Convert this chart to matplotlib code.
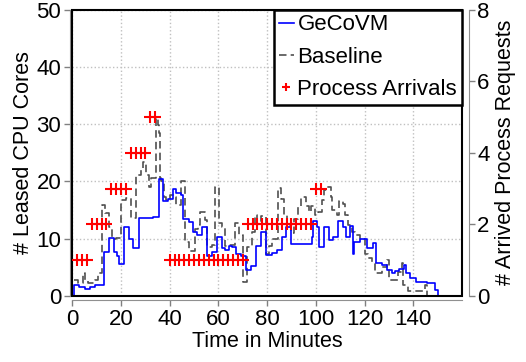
import matplotlib
matplotlib.use("Agg")
import matplotlib.pyplot as plt
from matplotlib.patches import Rectangle

plt.rcParams['font.family'] = ['Liberation Sans', 'DejaVu Sans']

# GeCoVM leased cores (step, post)
gecovm_t = [0, 0.7, 2.9, 5.2, 7.3, 9.3, 13.1, 15.2, 17.2, 18.2, 19.3, 21.2, 23.4, 24.9,
            27.4, 33.1, 35.6, 37.3, 39.3, 41.4, 42.7, 44.8, 45.5, 47.8, 49.4, 51.2, 53.2,
            55.3, 57.5, 59.4, 61.4, 62.8, 64.2, 65.5, 67.4, 69.4, 71.4, 73.3, 75.4, 77.6,
            79.6, 81.8, 83.9, 86.0, 87.9, 89.7, 98.4, 99.0, 100.5, 101.3, 103.2, 105.4,
            107.0, 109.1, 111.1, 112.5, 113.9, 115.1, 115.8, 118.1, 120.9, 123.3, 124.7,
            127.0, 129.1, 131.1, 132.5, 134.2, 136.1, 137.2, 138.6, 141.3, 145.5, 149.0, 150.3]
gecovm_v = [0, 1.9, 1.5, 1.2, 1.5, 1.9, 7.6, 10.2, 7.6, 7.0, 5.6, 12.0, 9.9, 8.3,
            13.6, 13.8, 20.5, 16.6, 17.0, 18.6, 18.0, 17.6, 13.4, 13.0, 11.2, 10.6, 12.0,
            7.0, 7.7, 10.3, 8.3, 8.0, 8.7, 8.6, 7.4, 7.0, 4.5, 5.3, 8.7, 11.2,
            7.2, 7.5, 8.1, 10.3, 12.0, 9.1, 10.3, 13.1, 12.0, 8.6, 12.0, 9.7,
            10.3, 13.1, 12.1, 10.3, 12.2, 7.4, 9.5, 10.0, 8.3, 9.2, 5.7,
            5.4, 4.5, 4.0, 4.4, 4.8, 5.4, 4.0, 3.1, 2.4, 2.3, 1.0, 0]

# Baseline leased cores (step, post)
baseline_t = [0.7, 2.5, 4.3, 5.2, 6.6, 9.3, 10.7, 12.1, 13.5, 15.2, 16.2, 17.9, 20.0, 22.0,
              24.1, 26.3, 28.0, 29.1, 30.4, 31.5, 32.2, 34.5, 35.2, 35.8, 36.2, 36.6, 37.7,
              38.6, 40.0, 41.4, 42.7, 44.5, 46.1, 48.0, 50.4, 51.5, 52.5, 54.5, 55.4, 57.2,
              58.6, 60.4, 61.5, 62.8, 64.5, 66.9, 68.6, 70.2, 71.6, 73.9, 75.0, 76.0, 77.6,
              79.4, 80.9, 82.2, 84.4, 85.6, 87.0, 88.1, 89.7, 91.1, 92.5, 93.8, 96.0, 97.0,
              98.1, 99.5, 101.0, 102.4, 103.4, 104.7, 106.1, 106.5, 108.6, 109.7, 111.0,
              112.0, 113.3, 114.7, 116.1, 118.1, 120.2, 121.6, 122.9, 124.3, 127.1, 129.1,
              130.0, 133.9, 135.3, 135.9, 138.0, 144.8, 145.5]
baseline_v = [2.8, 2.3, 4.0, 2.8, 2.3, 2.8, 4.0, 15.9, 14.4, 12.1, 10.0, 10.2, 16.8, 17.1,
              13.6, 21.1, 22.0, 23.4, 21.1, 19.0, 20.6, 31.0, 29.8, 28.4, 20.6, 20.0, 17.3,
              16.8, 17.6, 17.2, 15.8, 20.0, 9.5, 7.9, 11.7, 12.4, 14.6, 13.3, 8.6, 8.9,
              19.1, 12.7, 12.1, 8.7, 8.9, 12.7, 10.6, 2.5, 8.6, 11.2, 14.1, 13.0, 13.9,
              7.4, 8.7, 9.9, 18.8, 16.9, 14.1, 12.4, 11.0, 13.5, 15.5, 17.3, 15.7, 14.7,
              15.7, 14.2, 14.7, 16.8, 18.5, 19.0, 17.2, 15.0, 14.2, 16.6, 16.0,
              14.2, 12.4, 11.2, 10.6, 10.0, 7.4, 6.6, 5.8, 4.0, 5.1, 6.2,
              2.8, 4.2, 5.8, 1.9, 0.9, 1.9, 0]

# process arrivals per 2 minutes
arrival_t = [2, 4, 6, 8, 10, 12, 14, 16, 18, 20, 22, 24, 26, 28, 30, 32, 34,
             40, 42, 44, 46, 48, 50, 52, 54, 56, 58, 60, 62, 64, 66, 68, 70,
             72, 74, 76, 78, 80, 82, 84, 86, 88, 90, 92, 94, 96, 98, 100, 102]
arrival_n = [1, 1, 1, 2, 2, 2, 2, 3, 3, 3, 3, 4, 4, 4, 4, 5, 5,
             1, 1, 1, 1, 1, 1, 1, 1, 1, 1, 1, 1, 1, 1, 1, 1,
             2, 2, 2, 2, 2, 2, 2, 2, 2, 2, 2, 2, 2, 2, 3, 3]

fig = plt.figure(figsize=(5.26, 3.62), dpi=100)
ax = fig.add_axes([0.1375, 0.1823, 0.7407, 0.7914])
ax2 = ax.twinx()

l1, = ax.step(gecovm_t, gecovm_v, where='post', color='#0000ff', lw=1.2, label='GeCoVM', zorder=3)
l2, = ax.step(baseline_t, baseline_v, where='post', color='#505050', lw=1.2,
              linestyle=(0, (4.5, 2.5)), label='Baseline', zorder=2)
l3, = ax2.plot(arrival_t, arrival_n, linestyle='none', marker='+', color='red',
               markersize=8.5, mew=1.5, label='Process Arrivals')

ax.set_xlim(0, 160)
ax.set_ylim(0, 50)
ax2.set_ylim(0, 8)
ax.set_xticks(range(0, 141, 20))
ax.set_yticks(range(0, 51, 10))
ax2.set_yticks(range(0, 9, 2))
ax.grid(True, color='#c0c0c0', linestyle=':', lw=1)

for a in (ax, ax2):
    a.tick_params(labelsize=16, color='#808080', length=4, width=1, pad=2)
    for s in a.spines.values():
        s.set_visible(False)
ax.spines['bottom'].set_visible(True)
ax.spines['bottom'].set_position(('outward', 3))
ax.spines['bottom'].set_color('#909090')
ax.spines['left'].set_visible(True)
ax.spines['left'].set_position(('outward', 2))
ax.spines['left'].set_color('#909090')
ax2.spines['right'].set_visible(True)
ax2.spines['right'].set_position(('outward', 5))
ax2.spines['right'].set_color('#909090')
ax.add_patch(Rectangle((0, 0), 1, 1, transform=ax.transAxes, fill=False,
                       edgecolor='black', lw=1.5, clip_on=False, zorder=5))

ax.set_xlabel('Time in Minutes', fontsize=15.5, labelpad=1)
ax.set_ylabel('# Leased CPU Cores', fontsize=15.5, labelpad=2)
ax2.set_ylabel('# Arrived Process Requests', fontsize=15.5, labelpad=4)

leg = ax2.legend([l1, l2, l3], ['GeCoVM', 'Baseline', 'Process Arrivals'],
                 loc='upper right', borderaxespad=0, fontsize=16, fancybox=False,
                 framealpha=1, edgecolor='black', handlelength=0.7, handletextpad=0.15,
                 labelspacing=0.5, borderpad=0.22, markerscale=0.6)
leg.get_frame().set_linewidth(1.8)

fig.savefig('out.png', dpi=100)
